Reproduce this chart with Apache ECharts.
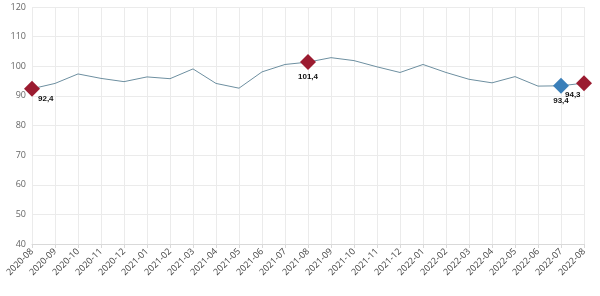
<!DOCTYPE html>
<html>
<head>
<meta charset="utf-8">
<script src="https://cdn.jsdelivr.net/npm/echarts@6/dist/echarts.min.js"></script>
<style>
  html, body { margin: 0; padding: 0; background: #fff; }
  #chart { width: 600px; height: 296px; }
</style>
</head>
<body>
<div id="chart"></div>
<script>
  // months on x axis
  let months = ['2020-08', '2020-09', '2020-10', '2020-11', '2020-12', '2021-01', '2021-02', '2021-03',
    '2021-04', '2021-05', '2021-06', '2021-07', '2021-08', '2021-09', '2021-10', '2021-11', '2021-12',
    '2022-01', '2022-02', '2022-03', '2022-04', '2022-05', '2022-06', '2022-07', '2022-08'];
  let values = [92.4, 94.2, 97.4, 95.9, 94.8, 96.4, 95.8, 99.1,
    94.2, 92.6, 98.1, 100.6, 101.4, 102.9, 101.9, 99.8, 97.9,
    100.6, 97.9, 95.6, 94.4, 96.5, 93.3, 93.4, 94.3];
  // highlighted points: index -> colour
  let highlights = [
    {idx: 0, color: '#9b1b30'},
    {idx: 12, color: '#9b1b30'},
    {idx: 23, color: '#3a7fb9'},
    {idx: 24, color: '#9b1b30'}
  ];

  let data = values.map(function (v, i) {
    let h = highlights.find(function (x) { return x.idx === i; });
    if (!h) return v;
    let pos = 'bottom';
    if (i === 0) pos = [14, 14];
    if (i === values.length - 1) pos = [-11, 16];
    return {
      value: v,
      symbol: 'diamond',
      symbolSize: 16,
      itemStyle: {color: h.color},
      label: {
        show: true,
        position: pos,
        distance: 3,
        fontSize: 8,
        fontWeight: 'bold',
        color: '#111',
        fontFamily: 'Arial, Liberation Sans',
        formatter: function (p) { return String(p.value).replace('.', ','); }
      }
    };
  });

  let myChart = echarts.init(document.getElementById('chart'));
  myChart.setOption({
    animation: false,
    grid: {left: 32, right: 16, top: 7, bottom: 52},
    xAxis: {
      type: 'category',
      data: months,
      boundaryGap: false,
      axisLine: {lineStyle: {color: '#d9d9d9'}},
      axisTick: {show: true, lineStyle: {color: '#d9d9d9'}, length: 4},
      axisLabel: {rotate: 45, color: '#444', fontSize: 9, fontFamily: 'Open Sans', margin: 6, interval: 0},
      splitLine: {show: true, lineStyle: {color: '#ebebeb'}}
    },
    yAxis: {
      type: 'value',
      min: 40,
      max: 120,
      interval: 10,
      axisLine: {show: false},
      axisTick: {show: false},
      axisLabel: {color: '#666', fontSize: 9, fontFamily: 'Open Sans', margin: 6},
      splitLine: {lineStyle: {color: '#ebebeb'}}
    },
    series: [
      {
        type: 'line',
        data: data,
        symbol: 'none',
        showAllSymbol: true,
        lineStyle: {color: '#6d8fa0', width: 1},
        itemStyle: {color: '#6d8fa0'}
      }
    ]
  });
</script>
</body>
</html>
